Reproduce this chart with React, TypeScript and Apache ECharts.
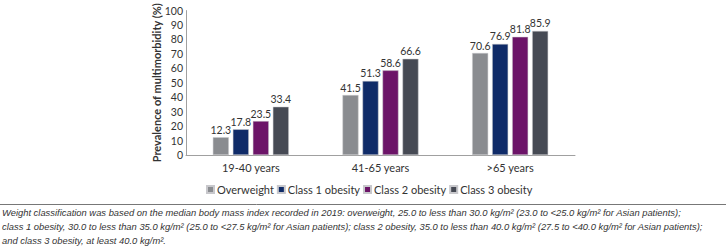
import React, { useEffect, useRef } from "react";
import * as echarts from "echarts";

const categories = ["19-40 years", "41-65 years", ">65 years"];
const seriesNames = ["Overweight", "Class 1 obesity", "Class 2 obesity", "Class 3 obesity"];
const overweight = [12.3, 41.5, 70.6];
const class1 = [17.8, 51.3, 76.9];
const class2 = [23.5, 58.6, 81.8];
const class3 = [33.4, 66.6, 85.9];
const colors = ["#8a8c90", "#0f2b68", "#6c1468", "#464a54"];
const yAxisName = "Prevalence of multimorbidity (%)";
const footnoteLines = [
  "Weight classification was based on the median body mass index recorded in 2019: overweight, 25.0 to less than 30.0 kg/m² (23.0 to <25.0 kg/m² for Asian patients);",
  "class 1 obesity, 30.0 to less than 35.0 kg/m² (25.0 to <27.5 kg/m² for Asian patients); class 2 obesity, 35.0 to less than 40.0 kg/m² (27.5 to <40.0 kg/m² for Asian patients);",
  "and class 3 obesity, at least 40.0 kg/m².",
];

const FONT = "Lato, 'Open Sans', sans-serif";

export default function App() {
  const ref = useRef<HTMLDivElement>(null);
  useEffect(() => {
    document.body.style.margin = "0";
    const chart = echarts.init(ref.current!, null, { renderer: "svg" });
    const dataSets = [overweight, class1, class2, class3];
    chart.setOption({
      animation: false,
      textStyle: { fontFamily: FONT },
      grid: { left: 186, top: 5, width: 389, height: 150, containLabel: false },
      legend: {
        data: seriesNames,
        left: 201,
        top: 179,
        icon: "rect",
        itemWidth: 7,
        itemHeight: 7,
        itemGap: 3,
        textStyle: { fontFamily: FONT, fontSize: 11, color: "#333", padding: [0, 0, 0, -2] },
      },
      xAxis: {
        type: "category",
        data: categories,
        axisLine: { lineStyle: { color: "#a0a0a0", width: 1 } },
        axisTick: { show: false },
        axisLabel: { fontFamily: FONT, fontSize: 11, color: "#333", margin: 7 },
      },
      yAxis: {
        type: "value",
        min: 0,
        max: 100,
        interval: 10,
        name: yAxisName,
        nameLocation: "middle",
        nameGap: 24,
        nameMoveOverlap: false,
        nameTextStyle: { fontFamily: FONT, fontSize: 11, fontWeight: "bold", color: "#333" },
        axisLine: { show: true, lineStyle: { color: "#a0a0a0", width: 1 } },
        axisTick: { show: false },
        splitLine: { show: false },
        axisLabel: { fontFamily: FONT, fontSize: 10.5, color: "#333", margin: 3 },
      },
      series: dataSets.map((d, i) => ({
        name: seriesNames[i],
        type: "bar",
        data: d,
        barWidth: 16,
        barGap: "25%",
        itemStyle: { color: colors[i], borderColor: "#c8c8cc", borderWidth: 0.5 },
        label: {
          show: true,
          position: "top",
          distance: 2,
          fontFamily: FONT,
          fontSize: 10.5,
          color: "#333",
          formatter: (p: any) => p.value.toFixed(1),
        },
      })),
      graphic: [
        {
          type: "line",
          shape: { x1: 0, y1: 204.5, x2: 726, y2: 204.5 },
          style: { stroke: "#777", lineWidth: 1 },
        },
        ...footnoteLines.map((t, i) => ({
          type: "text",
          left: 2,
          top: 208 + i * 14,
          style: {
            text: t,
            fontFamily: "'Liberation Sans', Arial, sans-serif",
            fontStyle: "italic",
            fontSize: 9.4,
            fill: "#333",
          },
        })),
      ],
    });
    return () => chart.dispose();
  }, []);
  return <div ref={ref} style={{ width: 726, height: 249 }} />;
}
